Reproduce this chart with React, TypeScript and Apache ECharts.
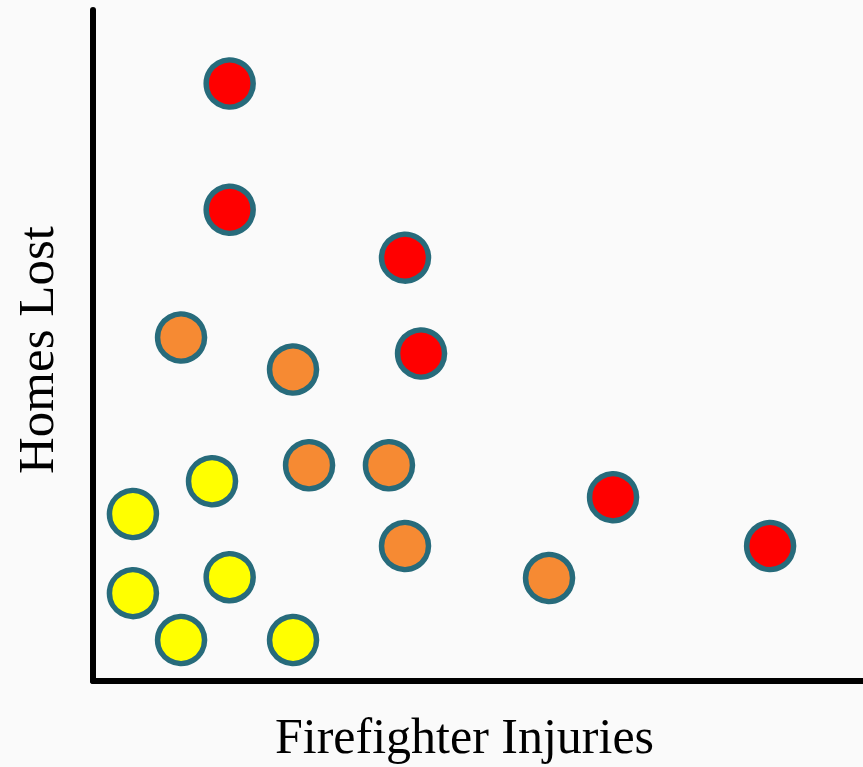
import React, { useEffect, useRef } from "react";
import * as echarts from "echarts";

const redPoints: [number, number][] = [
  [8.52, 37.4],
  [8.52, 29.5],
  [19.45, 26.5],
  [20.45, 20.5],
  [32.42, 11.5],
  [42.21, 8.45],
];
const orangePoints: [number, number][] = [
  [5.49, 21.5],
  [12.47, 19.5],
  [13.47, 13.5],
  [18.45, 13.5],
  [19.45, 8.45],
  [28.43, 6.45],
];
const yellowPoints: [number, number][] = [
  [2.49, 10.45],
  [7.42, 12.5],
  [2.49, 5.5],
  [8.52, 6.5],
  [5.49, 2.57],
  [12.47, 2.57],
];
const xTitle = "Firefighter Injuries";
const yTitle = "Homes Lost";

export default function App() {
  const ref = useRef<HTMLDivElement>(null);
  useEffect(() => {
    if (!ref.current) return;
    const chart = echarts.init(ref.current, undefined, { renderer: "svg" });
    const border = "#276b7b";
    const mk = (data: [number, number][], color: string) => ({
      type: "scatter",
      data,
      symbol: "circle",
      symbolSize: 47,
      itemStyle: { color, borderColor: border, borderWidth: 5.5, opacity: 1 },
      emphasis: { disabled: true },
    });
    chart.setOption({
      animation: false,
      backgroundColor: "#fafafa",
      grid: { left: 93, right: 0, top: 10, bottom: 86 },
      xAxis: {
        type: "value",
        min: 0,
        max: 48,
        axisLine: { show: true, onZero: false, lineStyle: { color: "#000", width: 6 } },
        axisTick: { show: false },
        axisLabel: { show: false },
        splitLine: { show: false },
      },
      yAxis: {
        type: "value",
        min: 0,
        max: 42,
        axisLine: { show: true, onZero: false, lineStyle: { color: "#000", width: 6 } },
        axisTick: { show: false },
        axisLabel: { show: false },
        splitLine: { show: false },
      },
      graphic: [
        {
          type: "text",
          left: 275,
          top: 711,
          style: {
            text: xTitle,
            font: '50px "Liberation Serif", serif',
            fill: "#000",
          },
        },
        {
          type: "text",
          x: 10.5,
          y: 474,
          rotation: Math.PI / 2,
          style: {
            text: yTitle,
            font: '51px "Liberation Serif", serif',
            fill: "#000",
            align: "left",
            verticalAlign: "top",
          },
        },
      ],
      series: [
        mk(yellowPoints, "#ffff00"),
        mk(orangePoints, "#f68a33"),
        mk(redPoints, "#ff0000"),
      ],
    });
    return () => chart.dispose();
  }, []);
  return (
    <div
      ref={ref}
      style={{ position: "fixed", left: 0, top: 0, width: 863, height: 767 }}
    />
  );
}
